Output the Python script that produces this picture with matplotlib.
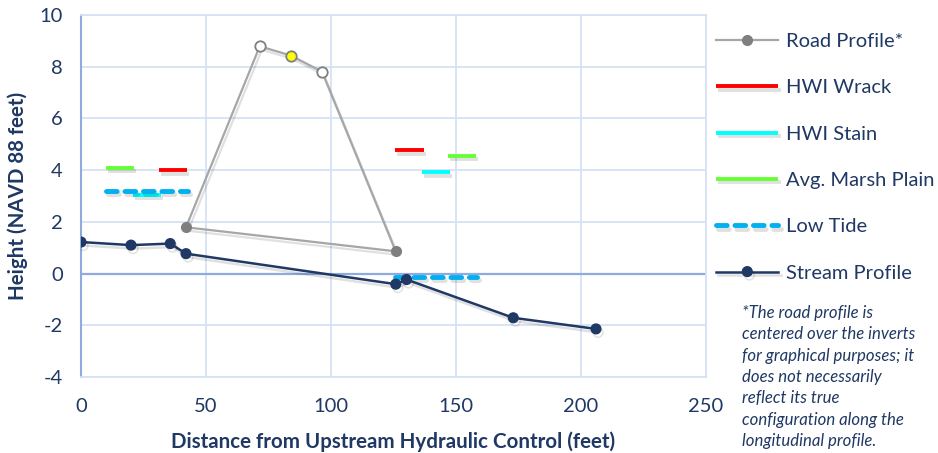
import numpy as np
import matplotlib
matplotlib.use("Agg")
import matplotlib.pyplot as plt
import matplotlib.patheffects as pe

plt.rcParams['font.family'] = ['Lato', 'DejaVu Sans']
plt.rcParams['axes.unicode_minus'] = False

nan = np.nan

# Stream profile (invert elevations)
stream_x = [0, 20, 35.7, 42, 125.9, 130.2, 172.9, 206]
stream_y = [1.22, 1.10, 1.16, 0.77, -0.41, -0.23, -1.71, -2.14]

# Road profile (closed outline drawn over the inverts)
road_x = [42, 71.5, 84, 96.4, 125.9, 42]
road_y = [1.79, 8.79, 8.43, 7.81, 0.86, 1.79]

# High water indicators and reference levels (upstream / downstream segments)
wrack_x = [31.2, 42.4, nan, 125.6, 137]
wrack_y = [4.0, 4.0, nan, 4.76, 4.76]
stain_x = [20.7, 32, nan, 136.3, 147.6]
stain_y = [3.04, 3.04, nan, 3.92, 3.92]
marsh_x = [10, 21.3, nan, 146.8, 158]
marsh_y = [4.10, 4.10, nan, 4.56, 4.56]
tide_x = [10, 42.7, nan, 125.6, 158.3]
tide_y = [3.21, 3.21, nan, -0.13, -0.13]

x_ticks = [0, 50, 100, 150, 200, 250]
y_ticks = [-4, -2, 0, 2, 4, 6, 8, 10]

navy = '#1F3864'
grid_c = '#D6E2F4'
axis_c = '#8FAADC'

shadow = [pe.SimpleLineShadow(offset=(1.5, -2.5), alpha=0.12, shadow_color='k'), pe.Normal()]

fig = plt.figure(figsize=(9.38, 4.53), dpi=100)
ax = fig.add_axes([81/938, 1-377/453, (706-81)/938, (377-15)/453])

ax.set_xlim(0, 250)
ax.set_ylim(-4, 10)
ax.set_xticks(x_ticks)
ax.set_yticks(y_ticks)
ax.grid(True, color=grid_c, lw=1.3)
ax.set_axisbelow(True)
for s in ['top', 'right', 'bottom']:
    ax.spines[s].set_color(grid_c)
    ax.spines[s].set_linewidth(1.3)
ax.spines['left'].set_color(axis_c)
ax.spines['left'].set_linewidth(1.5)
ax.axhline(0, color=axis_c, lw=1.6, zorder=1.5)
ax.tick_params(length=0, labelsize=14.5, labelcolor=navy)
ax.tick_params(axis='y', pad=13)
ax.tick_params(axis='x', pad=15)

# Road profile
ax.plot(road_x, road_y, color='#A6A6A6', lw=1.6, zorder=3, path_effects=shadow)
ax.plot([road_x[0], road_x[4]], [road_y[0], road_y[4]], ls='none', marker='o', ms=7,
        mfc='#7F7F7F', mec='#7F7F7F', zorder=4)
ax.plot([road_x[1], road_x[3]], [road_y[1], road_y[3]], ls='none', marker='o', ms=7.5,
        mfc='white', mec='#7F7F7F', mew=1.3, zorder=4)
ax.plot([road_x[2]], [road_y[2]], ls='none', marker='o', ms=7.5,
        mfc='#FFFF00', mec='#7F7F7F', mew=1.3, zorder=4)
road_handle, = ax.plot([], [], color='#A6A6A6', lw=1.6, marker='o', ms=7,
                       mfc='#7F7F7F', mec='#7F7F7F')

l_wrack, = ax.plot(wrack_x, wrack_y, color='#FF0000', lw=2.8, solid_capstyle='butt',
                   zorder=3, path_effects=shadow)
l_stain, = ax.plot(stain_x, stain_y, color='#00FFFF', lw=2.8, solid_capstyle='butt',
                   zorder=3, path_effects=shadow)
l_marsh, = ax.plot(marsh_x, marsh_y, color='#66FF33', lw=2.8, solid_capstyle='butt',
                   zorder=3, path_effects=shadow)
l_tide, = ax.plot(tide_x, tide_y, color='#00B0F0', lw=3.5, ls=(0, (2.2, 1.6)),
                  dash_capstyle='round', zorder=3, path_effects=shadow)
l_stream, = ax.plot(stream_x, stream_y, color=navy, lw=1.8, marker='o', ms=7,
                    mfc=navy, mec=navy, zorder=5, path_effects=shadow)

ax.set_xlabel('Distance from Upstream Hydraulic Control (feet)', fontsize=14.8,
              fontweight='bold', color=navy, labelpad=12)
ax.set_ylabel('Height (NAVD 88 feet)', fontsize=14.8, fontweight='bold',
              color=navy, labelpad=8)

leg = fig.legend([road_handle, l_wrack, l_stain, l_marsh, l_tide, l_stream],
                 ['Road Profile*', 'HWI Wrack', 'HWI Stain', 'Avg. Marsh Plain',
                  'Low Tide', 'Stream Profile'],
                 loc='upper left', bbox_to_anchor=(708/938, 1-25/453), frameon=False,
                 fontsize=14.5, labelspacing=1.45, handlelength=3.1, handletextpad=0.35,
                 borderaxespad=0)
for t in leg.get_texts():
    t.set_color(navy)

fig.text(742/938, 1-305/453,
         '*The road profile is\ncentered over the inverts\nfor graphical purposes; it\n'
         'does not necessarily\nreflect its true\nconfiguration along the\nlongitudinal profile.',
         fontsize=12.1, style='italic', color=navy, va='top', ha='left', linespacing=1.41)

fig.savefig('out.png', dpi=100)
